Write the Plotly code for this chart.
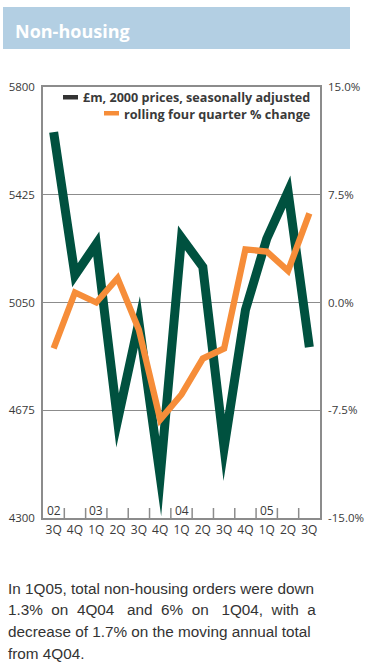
import plotly.graph_objects as go

quarters = ["3Q", "4Q", "1Q", "2Q", "3Q", "4Q", "1Q", "2Q", "3Q", "4Q", "1Q", "2Q", "3Q"]
periods = ["3Q02", "4Q02", "1Q03", "2Q03", "3Q03", "4Q03", "1Q04", "2Q04", "3Q04", "4Q04", "1Q05", "2Q05", "3Q05"]
orders_gbp_m = [5643, 5145, 5254, 4640, 4982, 4445, 5275, 5174, 4545, 5024, 5272, 5436, 4895]
rolling_pct = [-3.2, 0.7, 0.0, 1.7, -1.9, -8.15, -6.4, -3.9, -3.2, 3.7, 3.55, 2.2, 6.2]
year_labels = ["02", "03", "04", "05"]
year_label_idx = [0, 2, 6, 10]
left_ticks = [4300, 4675, 5050, 5425, 5800]
right_ticks = [-15.0, -7.5, 0.0, 7.5, 15.0]
right_tick_text = ["-15.0%", "-7.5%", "0.0%", "7.5%", "15.0%"]

GREEN = "#00513f"
ORANGE = "#f68d39"
AXIS_GRAY = "#8c8c8c"
TEXT = "#3a3a3a"
FONT = "Open Sans"

W, H = 365, 665
L, R, T, B = 43, 320, 87, 518
pw, ph = R - L, B - T


def px(x):
    return (x - L) / pw


def py(y):
    return (B - y) / ph


xi = list(range(len(periods)))

fig = go.Figure()
fig.add_trace(go.Scatter(
    x=xi, y=rolling_pct, mode="lines", name="rolling four quarter % change",
    line=dict(color=ORANGE, width=6.3), yaxis="y2", showlegend=False))
fig.add_trace(go.Scatter(
    x=xi, y=orders_gbp_m, mode="lines", name="£m, 2000 prices, seasonally adjusted",
    line=dict(color=GREEN, width=9), yaxis="y", showlegend=False))

annotations = []
shapes = []

# title bar
shapes.append(dict(type="rect", xref="paper", yref="paper",
                   x0=px(3), x1=px(350), y0=py(49), y1=py(7),
                   fillcolor="#b3cfe3", line=dict(width=0), layer="below"))
annotations.append(dict(text="<b>Non-housing</b>", xref="paper", yref="paper",
                        x=px(13), y=py(31), xanchor="left", yanchor="middle",
                        showarrow=False, font=dict(family=FONT, size=18, color="white")))

# legend (manual)
shapes.append(dict(type="rect", xref="paper", yref="paper",
                   x0=px(63), x1=px(78), y0=py(99.5), y1=py(95),
                   fillcolor="#333333", line=dict(width=0)))
shapes.append(dict(type="rect", xref="paper", yref="paper",
                   x0=px(104), x1=px(119), y0=py(115.5), y1=py(111),
                   fillcolor=ORANGE, line=dict(width=0)))
annotations.append(dict(text="<b>£m, 2000 prices, seasonally adjusted</b>", xref="paper", yref="paper",
                        x=px(312), y=py(97), xanchor="right", yanchor="middle",
                        showarrow=False, font=dict(family=FONT, size=12.6, color=TEXT)))
annotations.append(dict(text="<b>rolling four quarter % change</b>", xref="paper", yref="paper",
                        x=px(312), y=py(113.5), xanchor="right", yanchor="middle",
                        showarrow=False, font=dict(family=FONT, size=12.7, color=TEXT)))

# year labels inside plot near x axis
for lab, i in zip(year_labels, year_label_idx):
    annotations.append(dict(text=lab, xref="x", yref="paper", x=i, y=py(510),
                            xanchor="center", yanchor="middle", showarrow=False,
                            font=dict(family=FONT, size=12, color=TEXT)))

# paragraph text
para = [
    "In 1Q05, total non-housing orders were down",
    "1.3%  on  4Q04   and  6%  on   1Q04,  with  a",
    "decrease of 1.7% on the moving annual total",
    "from 4Q04.",
]
for k, line in enumerate(para):
    annotations.append(dict(text=line, xref="paper", yref="paper",
                            x=px(6), y=py(588 + k * 21.7), xanchor="left", yanchor="middle",
                            showarrow=False,
                            font=dict(family="Liberation Sans", size=15.3, color="#333333")))

fig.update_layout(
    width=W, height=H,
    margin=dict(l=L, r=W - R, t=T, b=H - B, pad=0, autoexpand=False),
    paper_bgcolor="white", plot_bgcolor="white",
    showlegend=False,
    xaxis=dict(
        range=[-0.5, 12.5], tickmode="array", tickvals=xi, ticktext=quarters,
        showgrid=False, zeroline=False, showline=True, linecolor=AXIS_GRAY, linewidth=1.5,
        mirror=True, ticks="", tickfont=dict(family=FONT, size=12, color=TEXT),
        automargin=False,
    ),
    yaxis=dict(
        range=[4300, 5800], tickmode="array", tickvals=left_ticks,
        ticktext=[str(v) for v in left_ticks],
        showgrid=True, gridcolor=AXIS_GRAY, gridwidth=1.3, zeroline=False,
        showline=True, linecolor=AXIS_GRAY, linewidth=1.5, ticks="",
        tickfont=dict(family=FONT, size=11.5, color=TEXT), ticklabelstandoff=4,
        automargin=False,
    ),
    yaxis2=dict(
        range=[-15, 15], overlaying="y", side="right", tickmode="array",
        tickvals=right_ticks, ticktext=right_tick_text, showgrid=False, zeroline=False,
        showline=True, linecolor=AXIS_GRAY, linewidth=1.5, ticks="",
        tickfont=dict(family=FONT, size=11.5, color=TEXT), ticklabelstandoff=4,
        automargin=False,
    ),
    shapes=shapes,
    annotations=annotations,
)

# inward tick marks on category boundaries
for b in [i + 0.5 for i in range(len(periods) - 1)]:
    fig.add_shape(type="line", xref="x", yref="paper", x0=b, x1=b, y0=0, y1=py(508),
                  line=dict(color=AXIS_GRAY, width=1.5))

post = (
    "document.body.style.margin='0';"
    "var s=document.createElement('style');"
    "s.textContent='.js-line{stroke-linejoin:miter !important;stroke-miterlimit:14 !important;}';"
    "document.head.appendChild(s);"
)
fig.write_html("out.html", post_script=post, config={"displayModeBar": False})
